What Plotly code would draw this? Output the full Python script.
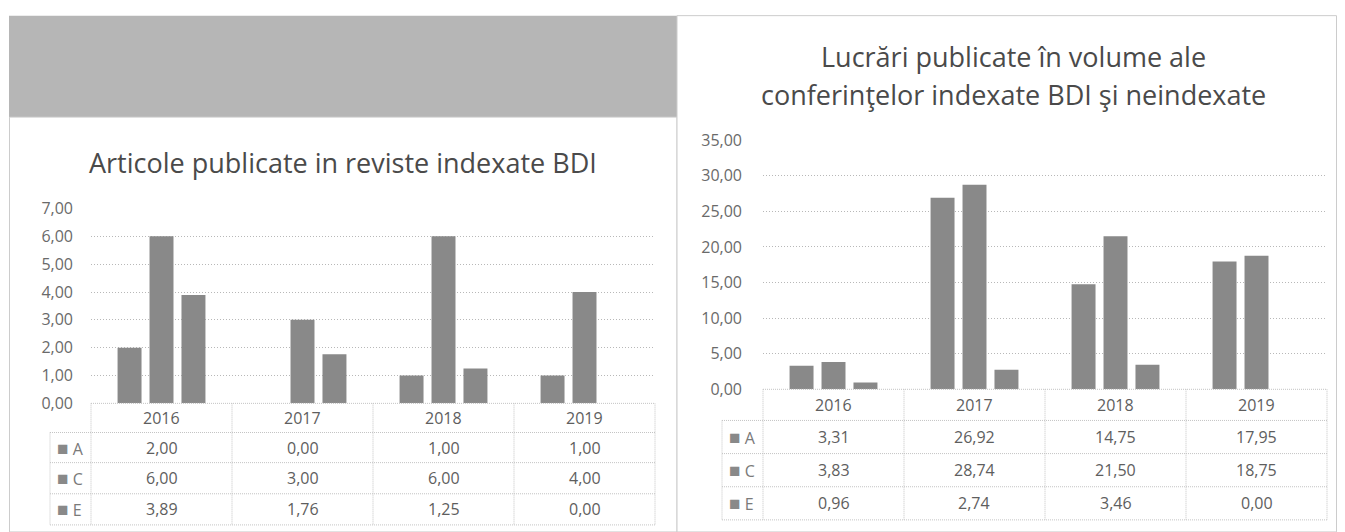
import plotly.graph_objects as go

W, H = 1329, 540
OFF = 8          # page body margin
SY, BY = 0.955, 10.7   # observed vertical mapping of the photographed page

years = ["2016", "2017", "2018", "2019"]
series_names = ["A", "C", "E"]

left_title = "Articole publicate in reviste indexate BDI"
left_A = [2.00, 0.00, 1.00, 1.00]
left_C = [6.00, 3.00, 6.00, 4.00]
left_E = [3.89, 1.76, 1.25, 0.00]

right_title_lines = ["Lucrări publicate în volume ale",
                     "conferinţelor indexate BDI şi neindexate"]
right_A = [3.31, 26.92, 14.75, 17.95]
right_C = [3.83, 28.74, 21.50, 18.75]
right_E = [0.96, 2.74, 3.46, 0.00]

left_ticks = [0, 1, 2, 3, 4, 5, 6, 7]
right_ticks = [0, 5, 10, 15, 20, 25, 30, 35]

BAR = "#898989"
TXT = "#5e5e5e"
GRID = "#b8b8b8"
TBL = "#c4c4c4"
FONT = "Open Sans"


def px_x(p):
    return (p - OFF) / W


def px_y(p):
    f = (p - BY) / SY - OFF
    return 1 - f / H


def fmt(v):
    return f"{v:.2f}".replace(".", ",")


fig = go.Figure()

for name, vals in zip(series_names, [left_A, left_C, left_E]):
    fig.add_trace(go.Bar(x=years, y=vals, name=name, marker_color=BAR,
                         marker_line_width=0, xaxis="x", yaxis="y", showlegend=False))
for name, vals in zip(series_names, [right_A, right_C, right_E]):
    fig.add_trace(go.Bar(x=years, y=vals, name=name, marker_color=BAR,
                         marker_line_width=0, xaxis="x2", yaxis="y2", showlegend=False))

# panel geometry (reference pixels)
L = dict(x0=91, x1=655, y0=401, y7=207, leg=50,
         rows=[401, 430, 460, 491, 522])
R = dict(x0=763, x1=1327, y0=387, y7=139, leg=722,
         rows=[387, 418, 451, 484, 517])

fig.update_layout(
    width=W, height=H,
    margin=dict(l=0, r=0, t=0, b=0),
    paper_bgcolor="#ffffff", plot_bgcolor="rgba(0,0,0,0)",
    separators=",.",
    barmode="group", bargap=0.32, bargroupgap=0.25,
    font=dict(family=FONT, color=TXT),
    xaxis=dict(domain=[px_x(L["x0"]), px_x(L["x1"])], anchor="y",
               showticklabels=False, showgrid=False, zeroline=False, showline=False,
               categoryorder="array", categoryarray=years),
    yaxis=dict(domain=[px_y(L["y0"]), px_y(L["y7"])], anchor="x",
               range=[0, 7], tickvals=left_ticks, tickformat=".2f",
               showgrid=True, gridcolor=GRID, griddash="1px,2px", gridwidth=1,
               zeroline=False, showline=False,
               tickfont=dict(size=16, color="#6a6a6a"), ticklabelstandoff=17),
    xaxis2=dict(domain=[px_x(R["x0"]), px_x(R["x1"])], anchor="y2",
                showticklabels=False, showgrid=False, zeroline=False, showline=False,
                categoryorder="array", categoryarray=years),
    yaxis2=dict(domain=[px_y(R["y0"]), px_y(R["y7"])], anchor="x2",
                range=[0, 35], tickvals=right_ticks, tickformat=".2f",
                showgrid=True, gridcolor=GRID, griddash="1px,2px", gridwidth=1,
                zeroline=False, showline=False,
                tickfont=dict(size=16, color="#6a6a6a"), ticklabelstandoff=20),
)

shapes = []
annotations = []

# panel frames and gray band
shapes.append(dict(type="rect", xref="paper", yref="paper",
                   x0=px_x(9), x1=px_x(677), y0=px_y(15), y1=px_y(116),
                   fillcolor="#b6b6b6", line=dict(width=0), layer="below"))
shapes.append(dict(type="rect", xref="paper", yref="paper",
                   x0=px_x(9.5), x1=px_x(677), y0=px_y(529), y1=px_y(116),
                   fillcolor="#ffffff", line=dict(color="#cccccc", width=1), layer="below"))
shapes.append(dict(type="rect", xref="paper", yref="paper",
                   x0=px_x(677), x1=px_x(1336.5), y0=px_y(529), y1=px_y(15),
                   fillcolor="#ffffff", line=dict(color="#cccccc", width=1), layer="below"))

# titles
annotations.append(dict(text=left_title, xref="paper", yref="paper",
                        x=px_x(343), y=px_y(161), xanchor="center", yanchor="middle",
                        showarrow=False, font=dict(size=27, color="#4a4a4a", family=FONT)))
for line_text, ypx in zip(right_title_lines, [56, 94]):
    annotations.append(dict(text=line_text, xref="paper", yref="paper",
                            x=px_x(1014), y=px_y(ypx), xanchor="center", yanchor="middle",
                            showarrow=False,
                            font=dict(size=27, color="#4a4a4a", family=FONT)))


def add_table(P, A, C, E):
    x0, x1, leg = P["x0"], P["x1"], P["leg"]
    rows = P["rows"]
    cw = (x1 - x0) / len(years)
    line = dict(color=TBL, width=1, dash="1px,1px")
    shapes.append(dict(type="line", xref="paper", yref="paper",
                       x0=px_x(x0), x1=px_x(x1), y0=px_y(rows[0]), y1=px_y(rows[0]), line=line))
    for r in rows[1:]:
        shapes.append(dict(type="line", xref="paper", yref="paper",
                           x0=px_x(leg), x1=px_x(x1), y0=px_y(r), y1=px_y(r), line=line))
    for i in range(len(years) + 1):
        xv = x0 + i * cw
        shapes.append(dict(type="line", xref="paper", yref="paper",
                           x0=px_x(xv), x1=px_x(xv), y0=px_y(rows[0]), y1=px_y(rows[-1]), line=line))
    shapes.append(dict(type="line", xref="paper", yref="paper",
                       x0=px_x(leg), x1=px_x(leg), y0=px_y(rows[1]), y1=px_y(rows[-1]), line=line))
    for i, yr in enumerate(years):
        annotations.append(dict(text=yr, xref="paper", yref="paper",
                                x=px_x(x0 + (i + 0.5) * cw), y=px_y((rows[0] + rows[1]) / 2),
                                xanchor="center", yanchor="middle",
                                showarrow=False, font=dict(size=16, color=TXT)))
    for j, (nm, vals) in enumerate(zip(series_names, [A, C, E])):
        yc = px_y((rows[j + 1] + rows[j + 2]) / 2)
        annotations.append(dict(text=f"<span style='color:{BAR};font-size:19px'>■</span> {nm}",
                                xref="paper", yref="paper", x=px_x(leg + 5), y=yc,
                                xanchor="left", yanchor="middle", showarrow=False,
                                font=dict(size=16, color="#7a7a7a")))
        for i, v in enumerate(vals):
            annotations.append(dict(text=fmt(v), xref="paper", yref="paper",
                                    x=px_x(x0 + (i + 0.5) * cw), y=yc,
                                    xanchor="center", yanchor="middle",
                                    showarrow=False, font=dict(size=16, color=TXT)))


add_table(L, left_A, left_C, left_E)
add_table(R, right_A, right_C, right_E)

fig.update_layout(shapes=shapes, annotations=annotations)
fig.write_html("out.html")
